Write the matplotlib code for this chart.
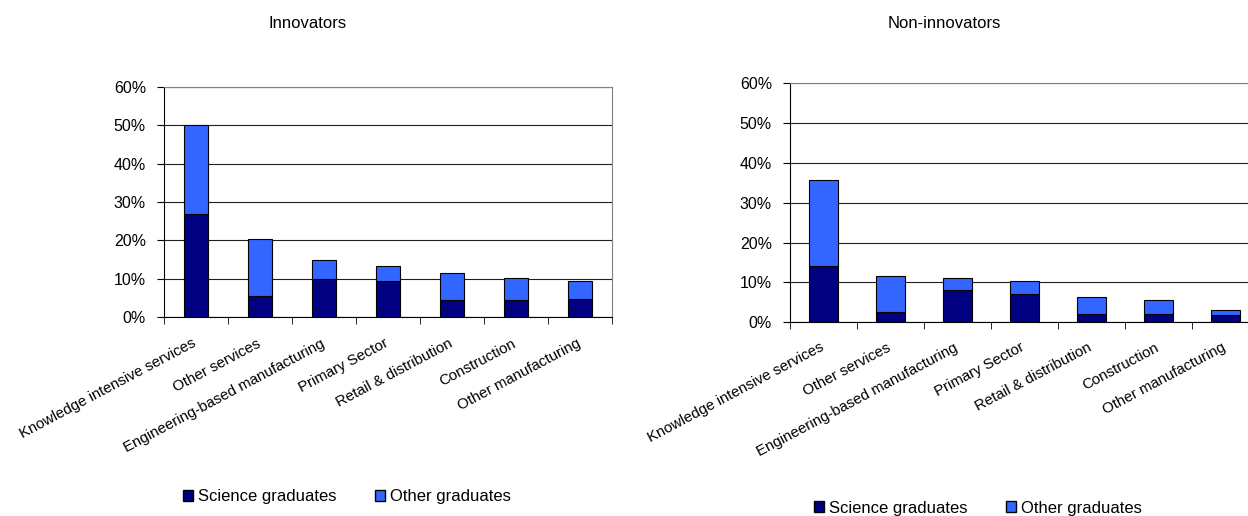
import matplotlib.pyplot as plt
import numpy as np
from matplotlib.patches import Patch

plt.rcParams['font.family'] = ['Liberation Sans', 'DejaVu Sans']

sectors = ["Knowledge intensive services", "Other services", "Engineering-based manufacturing",
           "Primary Sector", "Retail & distribution", "Construction", "Other manufacturing"]

# shares (%)
innov_science = [26.9, 5.4, 9.8, 9.5, 4.4, 4.4, 4.7]
innov_total = [50.2, 20.3, 14.9, 13.4, 11.6, 10.1, 9.4]
non_science = [14.1, 2.5, 8.2, 7.1, 2.1, 2.1, 1.8]
non_total = [35.7, 11.6, 11.0, 10.3, 6.4, 5.7, 3.2]

dark = '#000080'
light = '#3366FF'

fig = plt.figure(figsize=(12.48, 5.16), dpi=100)


def draw(ax, science, total, width, label_pad):
    x = np.arange(len(sectors))
    science = np.array(science)
    other = np.array(total) - science
    ax.bar(x, science, width, color=dark, edgecolor='black', linewidth=0.8, zorder=3)
    ax.bar(x, other, width, bottom=science, color=light, edgecolor='black', linewidth=0.8, zorder=3)
    ax.set_xlim(-0.5, len(sectors) - 0.5)
    ax.set_ylim(0, 60)
    ax.set_yticks(np.arange(0, 61, 10))
    ax.set_yticklabels([f"{v}%" for v in range(0, 61, 10)], fontsize=11.5)
    ax.yaxis.grid(True, color='#202020', linewidth=0.8, zorder=0)
    # labels end a little left of the bar centres
    ax.set_xticks(x - 0.06)
    ax.set_xticklabels(sectors, rotation=28, ha='right', va='top', rotation_mode='anchor',
                       fontsize=10.8)
    ax.tick_params(axis='x', length=0, pad=label_pad)
    ax.set_xticks(np.arange(-0.5, len(sectors)), minor=True)
    ax.tick_params(axis='x', which='minor', length=5, color='black')
    ax.tick_params(axis='y', length=5, pad=8)
    for side in ['top', 'right']:
        ax.spines[side].set_color('#808080')
    for side in ['left', 'bottom']:
        ax.spines[side].set_color('black')


ax1 = fig.add_axes([0.1314, 0.3857, 0.359, 0.4457])
draw(ax1, innov_science, innov_total, 0.39, 14)
ax2 = fig.add_axes([0.633, 0.3754, 0.3758, 0.4632])
draw(ax2, non_science, non_total, 0.42, 13)

fig.text(308 / 1248, 1 - 23 / 516, "Innovators", ha='center', va='center', fontsize=12)
fig.text(944 / 1248, 1 - 23 / 516, "Non-innovators", ha='center', va='center', fontsize=12)

handles = [Patch(facecolor=dark, edgecolor='black', label='Science graduates'),
           Patch(facecolor=light, edgecolor='black', label='Other graduates')]
for cx, cy in [(347 / 1248, 1 - 497 / 516), (978 / 1248, 1 - 508 / 516)]:
    fig.legend(handles=handles, loc='center', bbox_to_anchor=(cx, cy), ncol=2, frameon=False,
               fontsize=12, handlelength=0.6, handleheight=0.6, handletextpad=0.3,
               columnspacing=2.3, borderpad=0)

fig.savefig('out.png', dpi=100)
